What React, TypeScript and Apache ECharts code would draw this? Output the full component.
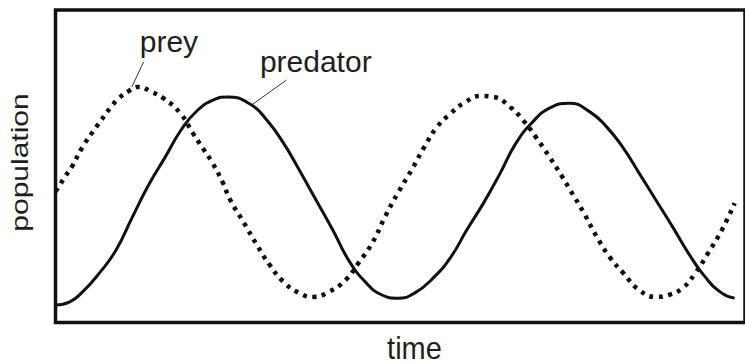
import React, { useEffect, useRef } from "react";
import * as echarts from "echarts";

// [time, population] samples for each species
const preyPoints: [number, number][] = [
  [0, 42.0], [2.5, 43.0], [9.5, 46.6], [16.5, 49.8], [27.5, 56.2], [41.5, 62.6],
  [56.5, 69.0], [64.5, 71.8], [74.5, 74.1], [84.5, 75.4], [97.5, 73.8], [109.5, 71.8],
  [126.5, 67.0], [139.5, 60.6], [149.5, 55.8], [159.5, 51.0], [169.5, 45.0], [177.5, 39.2],
  [191.5, 31.8], [204.5, 24.8], [217.5, 18.4], [231.5, 13.0], [247.5, 9.4], [261.5, 8.2],
  [277.5, 9.8], [294.5, 13.6], [307.5, 19.0], [321.5, 25.4], [334.5, 33.8], [347.5, 41.4],
  [361.5, 48.8], [374.5, 56.2], [387.5, 62.6], [401.5, 67.0], [416.5, 70.6], [431.5, 72.5],
  [444.5, 72.2], [461.5, 69.0], [474.5, 64.8], [487.5, 59.4], [501.5, 53.0], [514.5, 46.6],
  [522.5, 42.4], [536.5, 35.0], [549.5, 27.4], [562.5, 21.0], [576.5, 15.8], [592.5, 10.4],
  [609.5, 8.2], [622.5, 8.8], [636.5, 11.0], [649.5, 15.8], [662.5, 22.2], [676.5, 29.6],
  [689.5, 38.2],
];

const predatorPoints: [number, number][] = [
  [0, 5.6], [14.5, 6.6], [27.5, 9.8], [44.5, 15.8], [61.5, 23.2], [77.5, 33.4],
  [94.5, 44.0], [111.5, 53.0], [127.5, 61.6], [144.5, 68.0], [161.5, 71.4], [174.5, 72.2],
  [197.5, 69.9], [214.5, 64.8], [231.5, 57.4], [247.5, 48.8], [264.5, 39.2], [281.5, 29.6],
  [297.5, 20.0], [314.5, 13.0], [331.5, 8.8], [347.5, 7.8], [364.5, 9.4], [384.5, 14.6],
  [401.5, 21.0], [417.5, 29.6], [434.5, 38.2], [451.5, 47.8], [467.5, 57.4], [484.5, 64.2],
  [501.5, 68.6], [521.5, 70.2], [542.5, 67.4], [559.5, 62.6], [576.5, 55.8], [592.5, 47.8],
  [609.5, 39.2], [626.5, 30.6], [642.5, 22.2], [659.5, 14.6], [676.5, 9.4], [689.5, 7.8],
];

// Curve labels: text anchor and leader line, all in data space
const curveLabels = [
  { name: "prey", text: [85.5, 89.9], from: [89.5, 83.4], to: [77.5, 75.4] },
  { name: "predator", text: [207.5, 83.4], from: [234.5, 77.6], to: [200.5, 69.9] },
];

const FONT = "'Liberation Sans', Arial, Helvetica, sans-serif";
const INK = "#111";
const TEXT_INK = "#1e1e1e";

export default function App() {
  const ref = useRef<HTMLDivElement>(null);

  useEffect(() => {
    if (!ref.current) return;
    const chart = echarts.init(ref.current, null, { renderer: "svg" });

    chart.setOption({
      animation: false,
      backgroundColor: "#fff",
      grid: {
        show: true,
        left: 55.5,
        top: 10,
        bottom: 41.5,
        right: -10,
        borderColor: INK,
        borderWidth: 3.5,
        backgroundColor: "transparent",
      },
      xAxis: {
        type: "value",
        min: 0,
        max: 700,
        axisLine: { show: false },
        axisTick: { show: false },
        axisLabel: { show: false },
        splitLine: { show: false },
      },
      yAxis: {
        type: "value",
        min: 0,
        max: 100,
        axisLine: { show: false },
        axisTick: { show: false },
        axisLabel: { show: false },
        splitLine: { show: false },
      },
      series: [
        {
          name: "prey",
          type: "line",
          data: preyPoints,
          smooth: true,
          symbol: "none",
          lineStyle: { color: INK, width: 4.5, type: [4, 5.5], cap: "butt" },
        },
        {
          name: "predator",
          type: "line",
          data: predatorPoints,
          smooth: true,
          symbol: "none",
          lineStyle: { color: INK, width: 3 },
        },
      ],
    });

    const px = (p: number[]) => chart.convertToPixel({ gridIndex: 0 }, p) as number[];

    const labelGraphics: any[] = [];
    curveLabels.forEach((l) => {
      const t = px(l.text);
      const a = px(l.from);
      const b = px(l.to);
      labelGraphics.push({
        type: "line",
        shape: { x1: a[0], y1: a[1], x2: b[0], y2: b[1] },
        style: { stroke: "#333", lineWidth: 1 },
      });
      labelGraphics.push({
        type: "text",
        x: t[0],
        y: t[1],
        style: {
          text: l.name,
          fontFamily: FONT,
          fontSize: 30,
          fill: TEXT_INK,
          align: "left",
          verticalAlign: "middle",
        },
      });
    });

    chart.setOption({
      graphic: [
        ...labelGraphics,
        {
          type: "text",
          x: 414.5,
          y: 347.5,
          scaleY: 1.1,
          style: {
            text: "time",
            fontFamily: FONT,
            fontSize: 29,
            fill: TEXT_INK,
            align: "center",
            verticalAlign: "middle",
          },
        },
        {
          type: "text",
          x: 20,
          y: 162.5,
          rotation: Math.PI / 2,
          scaleY: 0.77,
          style: {
            text: "population",
            fontFamily: FONT,
            fontSize: 30,
            fill: TEXT_INK,
            align: "center",
            verticalAlign: "middle",
          },
        },
      ],
    });

    return () => chart.dispose();
  }, []);

  return (
    <div
      ref={ref}
      style={{ position: "absolute", left: 0, top: 0, width: 745, height: 364 }}
    />
  );
}
